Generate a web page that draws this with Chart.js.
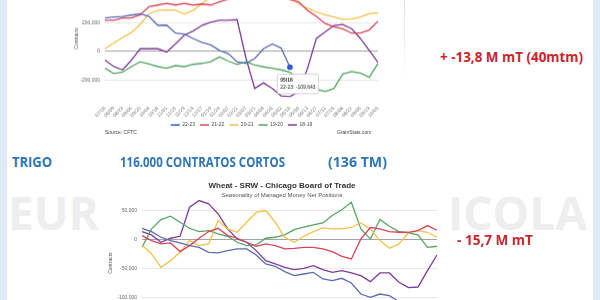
<!DOCTYPE html>
<html>
<head>
<meta charset="utf-8">
<title>Trigo - posiciones netas</title>
<script src="https://cdn.jsdelivr.net/npm/chart.js@4.4.1/dist/chart.umd.min.js"></script>
<style>
  html, body { margin: 0; padding: 0; }
  body { width: 600px; height: 300px; position: relative; overflow: hidden; background: #fff; }
  .side { position: absolute; top: 0; width: 7px; height: 300px; background: #dfe9f6; }
  .wm { position: absolute; top: 189px; font: 700 46px/1 "Open Sans", sans-serif; color: #eeeeee; }
  .txt { position: absolute; font: 700 14px/1 "Open Sans", sans-serif; white-space: nowrap; transform-origin: 0 50%; }
  .blue { color: #2e75b6; }
  .red { color: #c8262c; }
  .src { position: absolute; top: 130px; font: 5px/1 "Liberation Sans", sans-serif; color: #444; }
  .box { position: absolute; }
  #topBox { left: 60px; top: -40px; width: 340px; height: 176.5px; }
  #botBox { left: 100px; top: 176px; width: 364px; height: 171px; }
  .frame { position: absolute; left: 404px; top: 0; width: 1px; height: 82px; background: linear-gradient(#dde5dd, rgba(221,229,221,0)); }
</style>
</head>
<body>
<div class="side" style="left:0"></div>
<div class="side" style="right:0"></div>
<div class="wm" style="left:8px">EUR</div>
<div class="wm" style="left:448px">ICOLA</div>
<div class="frame"></div>
<div class="box" id="topBox"><canvas id="topChart"></canvas></div>
<div class="src" style="left:105px">Source: CFTC</div>
<div class="src" style="left:337px">GrainStats.com</div>
<div class="txt red" data-w="143" style="left:440px;top:50px">+ -13,8 M mT (40mtm)</div>
<div class="txt blue" data-w="40" style="left:12px;top:155px">TRIGO</div>
<div class="txt blue" data-w="165" style="left:120px;top:155px">116.000 CONTRATOS CORTOS</div>
<div class="txt blue" data-w="59" style="left:328px;top:155px">(136 TM)</div>
<div class="box" id="botBox"><canvas id="botChart"></canvas></div>
<div class="txt red" data-w="76" style="left:457px;top:233px">- 15,7 M mT</div>

<script>
// week labels (x axis)
const weeks = ['07/26', '08/09', '08/23', '09/06', '09/20', '10/04', '10/18', '11/01',
  '11/15', '11/29', '12/13', '12/27', '01/10', '01/24', '02/07', '02/21',
  '03/07', '03/21', '04/04', '04/18', '05/02', '05/16', '05/30', '06/13',
  '06/27', '07/11', '07/25', '08/08', '08/22', '09/05', '09/19', '10/03'];
const seasons = ['22-23', '21-22', '20-21', '19-20', '18-19'];

// top chart - net positions (contracts)
const top2223 = [233000, 240000, 244000, 253000, 262000, 244000, 181000, 183000, 127000, 120000,
  90000, 63000, 45000, 7000, -16000, -72000, -84000, -50000, 18000, 52000, 23000, -109643];
const top2122 = [217000, 217000, 233000, 233000, 255000, 312000, 323000, 335000, 323000, 335000,
  323000, 330000, 323000, 345000, 365000, 385000, 400000, 410000, 420000, 405000, 385000, 360000,
  345000, 285000, 244000, 194000, 172000, 158000, 127000, 127000, 149000, 210000];
const top2021 = [18000, 59000, 97000, 131000, 188000, 262000, 285000, 289000, 287000, 260000,
  285000, 334000, 380000, 420000, 455000, 480000, 495000, 485000, 465000, 440000, 410000, 375000,
  330000, 301000, 274000, 255000, 240000, 222000, 226000, 240000, 262000, 267000];
const top1920 = [-117500, -153700, -144600, -106200, -72300, -88100, -106200, -117500, -99400, -106200,
  -90400, -83600, -72300, -38400, -67800, -90400, -72000, -95000, -108000, -117500, -129000, -145000,
  -190000, -258000, -264000, -280000, -258000, -158000, -140000, -151000, -181000, -84000];
const top1819 = [-61000, -106000, -129000, -61000, 18000, 18000, 18000, -4500, 52000, 113000,
  142000, 181000, 203000, 217000, 217000, 221000, -45000, -258000, -219000, -258000, -310000, -316000,
  -280000, -117500, 90400, 135600, 180800, 187600, 158200, 90400, 6800, -76800];
const topTicks = [-200000, 0, 200000, 400000];

// bottom chart - Wheat SRW, managed money net positions
const srw2223 = [20100, 14400, 4600, -1200, -5200, -9800, -12700, -21300, -22400, -18400,
  -15500, -15500, -25900, -41400, -45400, -54600, -61500, -58700, -55800, -67300, -70200, -66100,
  -74200, -93200, -98900, -93200, -96000, -106400, -107500, -106400, -108700, -110400];
const srw2122 = [7500, -1200, -6900, -5200, -20100, -9800, 2900, 14400, 20100, 7500,
  2900, -4000, -10900, -6900, -9800, -15500, -14400, -12700, -12700, -15500, -20100, -28200,
  -32800, 1700, 21300, 19000, 14400, 13200, 13200, 16100, 24700, 16700];
const srw2021 = [-8600, -24200, -47200, -35700, -21300, -1200, -9800, -6900, 33400, 19000,
  13200, 30500, 47700, 50600, 30500, 4600, -4000, 6300, 14400, 20700, 19000, 19000,
  21900, 29300, 19000, -1200, -14400, -6900, 12100, 16100, 13200, 4600];
const srw1920 = [-12700, 19000, 35100, 40800, 30500, 20100, 14400, 16100, 10400, 6300,
  -4000, -9800, -8600, 2900, 4600, 8600, 17800, 21900, 25900, 29300, 42000, 52000,
  65000, 19000, 1700, 35100, 23600, 14400, 12100, 8600, -12700, -10900];
const srw1819 = [14400, 8600, -4000, 2900, 6300, 56400, 67800, 62100, 44900, 19000,
  1700, -4000, -18400, -35700, -41400, -47200, -51200, -48900, -44300, -51200, -55800, -52900,
  -56900, -61500, -71900, -56900, -56900, -73000, -82200, -81100, -52900, -25900];
const srwTicks = [-150000, -100000, -50000, 0, 50000];

const lineColors = ['#5a6bb0', '#d6455b', '#f0c24a', '#55a562', '#7d3c98'];

Chart.defaults.font.family = '"Liberation Sans", Arial, sans-serif';
Chart.defaults.color = '#666';

const fmt = v => Number(v).toLocaleString('en-US');
const gridColor = c => (c.tick && c.tick.value === 0) ? '#a3a3a3' : '#e7e7e7';

function makeSets(series) {
  return series.map((data, i) => ({
    label: seasons[i],
    data: data,
    borderColor: lineColors[i],
    backgroundColor: lineColors[i],
    borderWidth: 1.3,
    pointRadius: 0,
    fill: false,
    tension: 0
  }));
}

Chart.Tooltip.positioners.below = function (items) {
  if (!items.length) return false;
  const el = items[0].element;
  return { x: el.x + 8, y: el.y };
};

const topSets = makeSets([top2223, top2122, top2021, top1920, top1819]);
topSets[0].pointRadius = c => c.dataIndex === top2223.length - 1 ? 2.2 : 0;
topSets[0].pointBackgroundColor = '#2f5bd3';
topSets[0].pointBorderColor = '#2f5bd3';

const topChart = new Chart(document.getElementById('topChart'), {
  type: 'line',
  data: { labels: weeks, datasets: topSets },
  options: {
    responsive: true,
    maintainAspectRatio: false,
    animation: false,
    events: [],
    devicePixelRatio: 1,
    layout: { padding: { left: 12, right: 22, top: 19.5, bottom: 0 } },
    scales: {
      x: {
        grid: { display: false },
        border: { display: false },
        ticks: { autoSkip: false, minRotation: 45, maxRotation: 45, font: { size: 5 }, color: '#777', padding: 0 },
        afterFit: s => { s.height = 20; }
      },
      y: {
        min: -320000,
        max: 500000,
        afterBuildTicks: s => { s.ticks = topTicks.map(v => ({ value: v })); },
        grid: { color: gridColor, drawTicks: false },
        border: { display: false },
        ticks: { callback: fmt, font: { size: 5 }, color: '#666', padding: 5 },
        title: { display: true, text: 'Contracts', font: { size: 5 }, color: '#555', padding: 2 },
        afterFit: s => { s.width = 33; }
      }
    },
    plugins: {
      legend: {
        position: 'bottom',
        fullSize: false,
        labels: { usePointStyle: true, pointStyle: 'line', pointStyleWidth: 9, boxHeight: 5,
          padding: 5, font: { size: 5 }, color: '#444' }
      },
      tooltip: {
        position: 'below',
        yAlign: 'top',
        xAlign: 'center',
        caretSize: 0,
        caretPadding: 7,
        padding: 3,
        cornerRadius: 2,
        backgroundColor: 'rgba(255,255,255,0.95)',
        borderColor: '#c8c8c8',
        borderWidth: 0.8,
        titleColor: '#222',
        bodyColor: '#222',
        titleFont: { size: 5, weight: 'bold' },
        bodyFont: { size: 5 },
        titleMarginBottom: 1.5,
        displayColors: false,
        callbacks: { label: c => c.dataset.label + ': ' + fmt(c.parsed.y) }
      }
    }
  }
});
topChart.tooltip.setActiveElements([{ datasetIndex: 0, index: top2223.length - 1 }], { x: 0, y: 0 });
topChart.update();

const botChart = new Chart(document.getElementById('botChart'), {
  type: 'line',
  data: { labels: weeks, datasets: makeSets([srw2223, srw2122, srw2021, srw1920, srw1819]) },
  options: {
    responsive: true,
    maintainAspectRatio: false,
    animation: false,
    events: [],
    devicePixelRatio: 1,
    layout: { padding: { left: 6, right: 6, top: 0, bottom: 0 } },
    scales: {
      x: {
        grid: { display: false },
        border: { display: false },
        ticks: { autoSkip: false, minRotation: 45, maxRotation: 45, font: { size: 5 }, color: '#666' },
        afterFit: s => { s.height = 20; }
      },
      y: {
        min: -150000,
        max: 70000,
        afterBuildTicks: s => { s.ticks = srwTicks.map(v => ({ value: v })); },
        grid: { color: gridColor, drawTicks: false },
        border: { display: false },
        ticks: { callback: fmt, font: { size: 5 }, color: '#666', padding: 5 },
        title: { display: true, text: 'Contracts', font: { size: 5 }, color: '#555', padding: 2 },
        afterFit: s => { s.width = 36; }
      },
      yr: {
        position: 'right',
        min: 0,
        max: 1,
        grid: { display: false },
        border: { display: false },
        ticks: { display: false },
        afterFit: s => { s.width = 21; }
      }
    },
    plugins: {
      legend: { display: false },
      tooltip: { enabled: false },
      title: {
        display: true,
        text: 'Wheat - SRW - Chicago Board of Trade',
        font: { size: 8, weight: 'bold' },
        color: '#333',
        padding: { top: 5, bottom: 1.5 }
      },
      subtitle: {
        display: true,
        text: 'Seasonality of Managed Money Net Positions',
        font: { size: 6 },
        color: '#555',
        padding: { top: 0, bottom: 0 }
      }
    }
  }
});

function fitTexts() {
  document.querySelectorAll('.txt').forEach(el => {
    el.style.transform = 'none';
    const w = el.getBoundingClientRect().width;
    el.style.transform = 'scaleX(' + (el.dataset.w / w).toFixed(3) + ')';
  });
}
fitTexts();
document.fonts.ready.then(fitTexts);
</script>
</body>
</html>
